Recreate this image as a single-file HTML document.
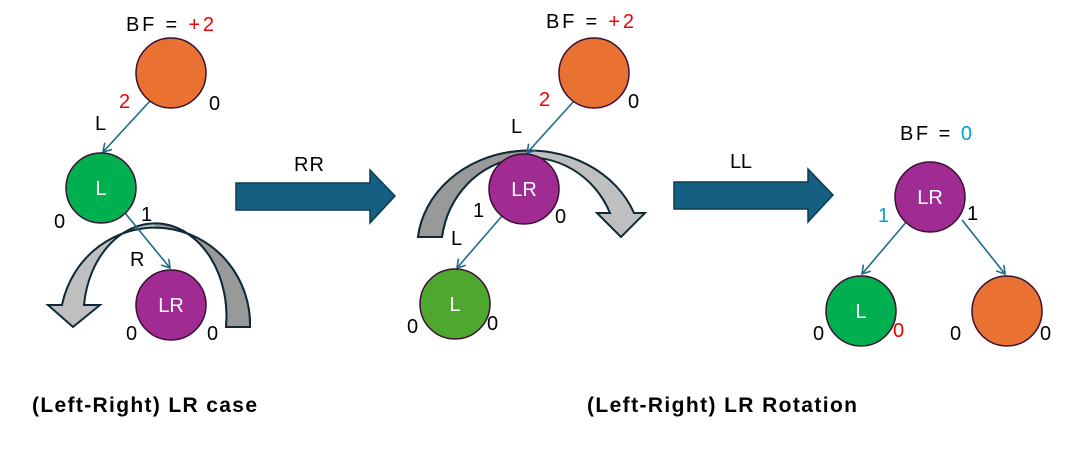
<html><body style="margin:0;background:#fff">
<svg width="1073" height="454" xmlns="http://www.w3.org/2000/svg" font-family="Liberation Sans, DejaVu Sans, sans-serif" font-size="19">
<defs>
<marker id="a" markerWidth="12" markerHeight="12" refX="9" refY="5" orient="auto" markerUnits="userSpaceOnUse"><path d="M1,0 L9,5 L1,10" fill="none" stroke="#1f6b8a" stroke-width="1.6"/></marker>
<clipPath id="r1"><rect x="155" y="0" width="200" height="454"/></clipPath>
<clipPath id="l2"><rect x="300" y="0" width="230" height="454"/></clipPath>
</defs>
<path d="M250,327 A95,97 0 0 0 62,305 L48,305 L73,327 L100,305 L84,305 A71,92 0 0 1 226,327 Z" fill="#bfbfbf" stroke="#0e2a38" stroke-width="2"/>
<path d="M250,327 A95,97 0 0 0 62,305 L48,305 L73,327 L100,305 L84,305 A71,92 0 0 1 226,327 Z" fill="#999" stroke="#0e2a38" stroke-width="2" clip-path="url(#r1)"/>
<path d="M418,237 A112,97 0 0 1 634,213 L645,213 L621,237 L597,213 L610,213 A88,92 0 0 0 442,237 Z" fill="#bfbfbf" stroke="#0e2a38" stroke-width="2"/>
<path d="M418,237 A112,97 0 0 1 634,213 L645,213 L621,237 L597,213 L610,213 A88,92 0 0 0 442,237 Z" fill="#999" stroke="#0e2a38" stroke-width="2" clip-path="url(#l2)"/>
<path d="M236,183 H370 V170 L395,196 L370,223 V210 H236 Z" fill="#156082" stroke="#0e3a50" stroke-width="1.5"/>
<path d="M674,182 H808 V169 L833,195 L808,222 V209 H674 Z" fill="#156082" stroke="#0e3a50" stroke-width="1.5"/>
<g stroke="#1f6b8a" stroke-width="1.6" marker-end="url(#a)">
<line x1="150" y1="101" x2="103" y2="152"/>
<line x1="125" y1="213" x2="170" y2="268"/>
<line x1="574" y1="101" x2="527" y2="153"/>
<line x1="502" y1="216" x2="457" y2="268"/>
<line x1="908" y1="220" x2="862" y2="274"/>
<line x1="962" y1="220" x2="1005" y2="274"/>
</g>
<g stroke="#3a1030" stroke-width="1.5">
<circle cx="171" cy="73" r="35" fill="#e97132"/>
<circle cx="101" cy="188" r="35" fill="#00b050"/>
<circle cx="171" cy="305" r="35" fill="#a02b93"/>
<circle cx="594" cy="73" r="35" fill="#e97132"/>
<circle cx="524" cy="189" r="35" fill="#a02b93"/>
<circle cx="455" cy="304" r="35" fill="#4ea72e"/>
<circle cx="930" cy="197" r="35" fill="#a02b93"/>
<circle cx="861" cy="311" r="35" fill="#00b050"/>
<circle cx="1007" cy="311" r="35" fill="#e97132"/>
</g>
<g fill="#fff" text-anchor="middle" font-size="20">
<text x="101" y="195">L</text><text x="171" y="312">LR</text>
<text x="524" y="196">LR</text><text x="455" y="311">L</text>
<text x="930" y="204">LR</text><text x="861" y="318">L</text>
</g>
<g fill="#000" font-size="20">
<text x="126" y="31" textLength="88">BF = <tspan fill="#e00">+2</tspan></text>
<text x="546" y="28" textLength="88">BF = <tspan fill="#e00">+2</tspan></text>
<text x="900" y="140" textLength="72">BF = <tspan fill="#00a0e0">0</tspan></text>
<text x="119" y="108" fill="#e00">2</text><text x="209" y="110">0</text>
<text x="95" y="130">L</text>
<text x="54" y="228">0</text><text x="141" y="221">1</text>
<text x="130" y="266">R</text>
<text x="126" y="340">0</text><text x="207" y="340">0</text>
<text x="539" y="106" fill="#e00">2</text><text x="628" y="108">0</text>
<text x="511" y="133">L</text>
<text x="473" y="217">1</text><text x="555" y="223">0</text>
<text x="451" y="245">L</text>
<text x="407" y="333">0</text><text x="487" y="330">0</text>
<text x="878" y="222" fill="#00a0e0">1</text><text x="967" y="220">1</text>
<text x="813" y="340">0</text><text x="893" y="337" fill="#e00">0</text>
<text x="950" y="340">0</text><text x="1040" y="340">0</text>
<text x="294" y="171" textLength="30">RR</text><text x="730" y="168" textLength="22">LL</text>
</g>
<g font-weight="bold" font-size="21">
<text x="32" y="412" textLength="225">(Left-Right) LR case</text>
<text x="587" y="412" textLength="270">(Left-Right) LR Rotation</text>
</g>
</svg>
</body></html>
